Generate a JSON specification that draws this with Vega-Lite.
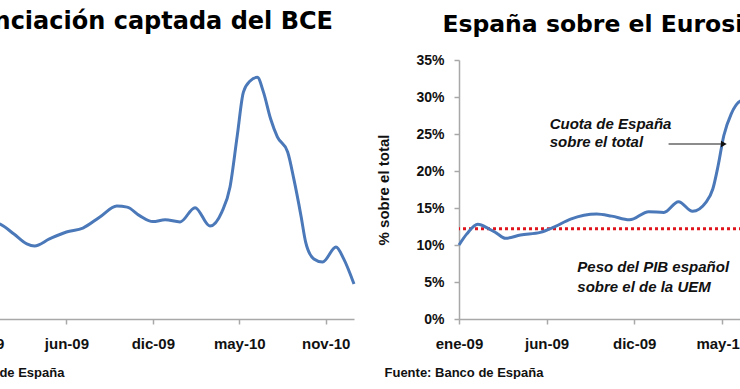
{
  "$schema": "https://vega.github.io/schema/vega-lite/v6.json",
  "background": "white",
  "padding": {"left": -95, "top": 10, "right": -97, "bottom": 0},
  "spacing": 15,
  "config": {
    "font": "Liberation Sans",
    "view": {"stroke": null},
    "axis": {
      "grid": false,
      "domainColor": "#a8a8a8",
      "domainWidth": 1.5,
      "tickColor": "#a8a8a8",
      "tickWidth": 1.5,
      "tickSize": 5,
      "labelFont": "Liberation Sans",
      "labelFontWeight": "bold",
      "labelColor": "#111111",
      "labelOverlap": false,
      "labelFlush": false,
      "titleFont": "Liberation Sans",
      "titleFontWeight": "bold",
      "titleColor": "#111111"
    },
    "title": {"font": "DejaVu Sans", "fontWeight": "bold", "fontSize": 23, "color": "#000000"}
  },
  "datasets": {
    "bce": [
      {"fecha": "2009-01-02", "importe": 78.2},
      {"fecha": "2009-02-09", "importe": 76.7},
      {"fecha": "2009-03-09", "importe": 72.8},
      {"fecha": "2009-04-03", "importe": 69.0},
      {"fecha": "2009-04-18", "importe": 68.2},
      {"fecha": "2009-05-17", "importe": 70.9},
      {"fecha": "2009-06-19", "importe": 73.6},
      {"fecha": "2009-07-21", "importe": 75.1},
      {"fecha": "2009-08-23", "importe": 79.4},
      {"fecha": "2009-09-25", "importe": 83.6},
      {"fecha": "2009-10-15", "importe": 83.2},
      {"fecha": "2009-11-09", "importe": 79.8},
      {"fecha": "2009-12-04", "importe": 77.6},
      {"fecha": "2009-12-28", "importe": 78.3},
      {"fecha": "2010-01-26", "importe": 77.5},
      {"fecha": "2010-02-24", "importe": 83.0},
      {"fecha": "2010-03-25", "importe": 75.9},
      {"fecha": "2010-04-17", "importe": 81.3},
      {"fecha": "2010-05-03", "importe": 91.0},
      {"fecha": "2010-05-17", "importe": 110.7},
      {"fecha": "2010-05-29", "importe": 127.6},
      {"fecha": "2010-06-11", "importe": 131.9},
      {"fecha": "2010-06-25", "importe": 133.3},
      {"fecha": "2010-07-07", "importe": 127.6},
      {"fecha": "2010-07-21", "importe": 117.2},
      {"fecha": "2010-08-03", "importe": 110.3},
      {"fecha": "2010-08-23", "importe": 104.5},
      {"fecha": "2010-09-04", "importe": 94.1},
      {"fecha": "2010-09-18", "importe": 79.8},
      {"fecha": "2010-09-27", "importe": 69.7},
      {"fecha": "2010-10-13", "importe": 63.2},
      {"fecha": "2010-10-30", "importe": 62.0},
      {"fecha": "2010-11-25", "importe": 67.8},
      {"fecha": "2010-12-10", "importe": 63.2},
      {"fecha": "2010-12-30", "importe": 53.5}
    ],
    "cuota": [
      {"fecha": "2009-01-02", "cuota": 0.100},
      {"fecha": "2009-01-17", "cuota": 0.115},
      {"fecha": "2009-02-07", "cuota": 0.128},
      {"fecha": "2009-02-28", "cuota": 0.122},
      {"fecha": "2009-03-15", "cuota": 0.116},
      {"fecha": "2009-04-01", "cuota": 0.109},
      {"fecha": "2009-04-30", "cuota": 0.1135},
      {"fecha": "2009-06-07", "cuota": 0.117},
      {"fecha": "2009-07-03", "cuota": 0.124},
      {"fecha": "2009-08-04", "cuota": 0.135},
      {"fecha": "2009-09-23", "cuota": 0.142},
      {"fecha": "2009-10-22", "cuota": 0.139},
      {"fecha": "2009-11-25", "cuota": 0.134},
      {"fecha": "2010-01-01", "cuota": 0.145},
      {"fecha": "2010-01-30", "cuota": 0.144},
      {"fecha": "2010-02-27", "cuota": 0.1585},
      {"fecha": "2010-03-26", "cuota": 0.1455},
      {"fecha": "2010-04-21", "cuota": 0.158},
      {"fecha": "2010-05-04", "cuota": 0.176},
      {"fecha": "2010-05-14", "cuota": 0.207},
      {"fecha": "2010-05-25", "cuota": 0.248},
      {"fecha": "2010-06-08", "cuota": 0.277},
      {"fecha": "2010-06-27", "cuota": 0.295},
      {"fecha": "2010-07-10", "cuota": 0.297},
      {"fecha": "2010-07-24", "cuota": 0.285},
      {"fecha": "2010-08-07", "cuota": 0.268},
      {"fecha": "2010-08-28", "cuota": 0.255},
      {"fecha": "2010-09-10", "cuota": 0.228},
      {"fecha": "2010-09-24", "cuota": 0.195},
      {"fecha": "2010-10-08", "cuota": 0.178},
      {"fecha": "2010-10-29", "cuota": 0.170},
      {"fecha": "2010-11-25", "cuota": 0.182},
      {"fecha": "2010-12-10", "cuota": 0.172},
      {"fecha": "2010-12-30", "cuota": 0.150}
    ],
    "pib": [{"peso": 0.122}],
    "notas": [
      {"fecha": "2009-06-25", "valor": 0.264, "texto": "Cuota de España"},
      {"fecha": "2009-06-25", "valor": 0.239, "texto": "sobre el total"},
      {"fecha": "2009-08-17", "valor": 0.0705, "texto": "Peso del PIB español"},
      {"fecha": "2009-08-17", "valor": 0.0435, "texto": "sobre el de la UEM"}
    ],
    "flecha": [{"desde": "2010-02-08", "hasta": "2010-05-25", "valor": 0.2365}]
  },
  "hconcat": [
    {
      "width": 374,
      "height": 259,
      "title": {"text": "Financiación captada del BCE", "anchor": "end", "frame": "group", "dx": -21, "offset": 26, "fontSize": 24},
      "data": {"name": "bce"},
      "mark": {"type": "line", "interpolate": "monotone", "color": "#4a78b8", "strokeWidth": 3},
      "encoding": {
        "x": {
          "field": "fecha", "type": "temporal",
          "scale": {"domain": ["2009-01-02", "2010-12-30"]},
          "axis": {
            "values": ["2009-01-02", "2009-06-19", "2009-12-04", "2010-05-21", "2010-11-05"],
            "tickCount": 12,
            "labelExpr": "['ene','feb','mar','abr','may','jun','jul','ago','sep','oct','nov','dic'][month(datum.value)] + '-' + timeFormat(datum.value, '%y')",
            "labelFontSize": 15,
            "labelPadding": 12,
            "labelOverlap": false,
            "title": "Fuente: Banco de España",
            "titleFontSize": 13,
            "titleAnchor": "start",
            "titleAlign": "left",
            "titleBaseline": "alphabetic",
            "titleX": -75,
            "titleY": 57
          }
        },
        "y": {
          "field": "importe", "type": "quantitative",
          "scale": {"domain": [40, 140], "zero": false},
          "axis": null
        }
      }
    },
    {
      "width": 379,
      "height": 259,
      "title": {"text": "España sobre el Eurosistema", "anchor": "start", "frame": "group", "dx": -16.6, "offset": 17, "fontSize": 23.5},
      "layer": [
        {
          "data": {"name": "pib"},
          "mark": {"type": "rule", "color": "#e0141c", "strokeWidth": 3, "strokeDash": [3, 3]},
          "encoding": {
            "y": {
              "field": "peso", "type": "quantitative",
              "scale": {"domain": [0, 0.35]},
              "axis": {
                "values": [0, 0.05, 0.1, 0.15, 0.2, 0.25, 0.3, 0.35],
                "tickCount": 12,
                "format": ".0%",
                "labelFontSize": 14,
                "labelPadding": 10,
                "labelOverlap": false,
                "title": "% sobre el total",
                "titleFontSize": 15,
                "titleX": -68
              }
            }
          }
        },
        {
          "data": {"name": "cuota"},
          "mark": {"type": "line", "interpolate": "monotone", "color": "#4a78b8", "strokeWidth": 3},
          "encoding": {
            "x": {
              "field": "fecha", "type": "temporal",
              "scale": {"domain": ["2009-01-02", "2010-12-30"]},
              "axis": {
                "values": ["2009-01-02", "2009-06-19", "2009-12-04", "2010-05-21", "2010-11-05"],
                "tickCount": 12,
                "labelExpr": "['ene','feb','mar','abr','may','jun','jul','ago','sep','oct','nov','dic'][month(datum.value)] + '-' + timeFormat(datum.value, '%y')",
                "labelFontSize": 15,
                "labelPadding": 12,
                "labelOverlap": false,
                "title": "Fuente: Banco de España",
                "titleFontSize": 13,
                "titleAnchor": "start",
                "titleAlign": "left",
                "titleBaseline": "alphabetic",
                "titleX": -75,
                "titleY": 57
              }
            },
            "y": {
              "field": "cuota", "type": "quantitative",
              "axis": {
                "values": [0, 0.05, 0.1, 0.15, 0.2, 0.25, 0.3, 0.35],
                "tickCount": 12,
                "format": ".0%",
                "labelFontSize": 14,
                "labelPadding": 10,
                "labelOverlap": false,
                "title": "% sobre el total",
                "titleFontSize": 15,
                "titleX": -68
              }
            }
          }
        },
        {
          "data": {"name": "flecha"},
          "mark": {"type": "rule", "color": "#666666", "strokeWidth": 1.5},
          "encoding": {
            "x": {"field": "desde", "type": "temporal"},
            "x2": {"field": "hasta"},
            "y": {"field": "valor", "type": "quantitative"}
          }
        },
        {
          "data": {"name": "flecha"},
          "mark": {"type": "point", "shape": "triangle-right", "filled": true, "color": "#111111", "size": 45, "opacity": 1},
          "encoding": {
            "x": {"field": "hasta", "type": "temporal"},
            "y": {"field": "valor", "type": "quantitative"}
          }
        },
        {
          "data": {"name": "notas"},
          "mark": {"type": "text", "align": "left", "baseline": "middle", "font": "Liberation Sans", "fontStyle": "italic", "fontWeight": "bold", "fontSize": 15, "color": "#111111"},
          "encoding": {
            "x": {"field": "fecha", "type": "temporal"},
            "y": {"field": "valor", "type": "quantitative"},
            "text": {"field": "texto"}
          }
        }
      ]
    }
  ]
}
